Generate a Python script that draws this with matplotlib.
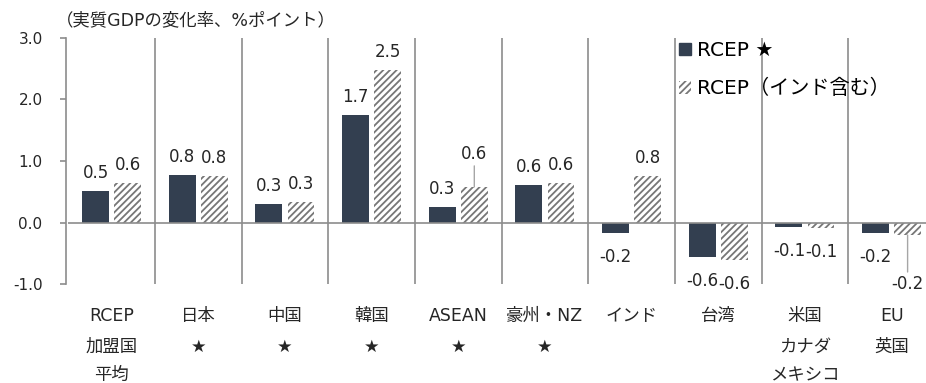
import matplotlib.pyplot as plt
import numpy as np
from matplotlib.patches import Patch

plt.rcParams["font.family"] = ["DejaVu Sans", "Noto Sans CJK JP"]
plt.rcParams["axes.unicode_minus"] = False
plt.rcParams["hatch.color"] = "#777777"
plt.rcParams["hatch.linewidth"] = 1.3

# category labels (one list of lines per category)
categories = [
    ["RCEP", "加盟国", "平均"],
    ["日本", "★"],
    ["中国", "★"],
    ["韓国", "★"],
    ["ASEAN", "★"],
    ["豪州・NZ", "★"],
    ["インド"],
    ["台湾"],
    ["米国", "カナダ", "メキシコ"],
    ["EU", "英国"],
]
rcep = [0.52, 0.78, 0.31, 1.74, 0.26, 0.61, -0.16, -0.56, -0.07, -0.16]
rcep_india = [0.64, 0.76, 0.34, 2.48, 0.58, 0.64, 0.76, -0.60, -0.09, -0.20]
series_names = ["RCEP ★", "RCEP（インド含む）"]
y_ticks = [-1.0, 0.0, 1.0, 2.0, 3.0]

DARK = "#333f50"
GRID = "#8c8c8c"
TEXT = "#262626"
HATCH = "/////"

fig = plt.figure(figsize=(9.26, 3.83), dpi=100)
W, H = 926, 383
ax = fig.add_axes([68.3 / W, (H - 284.3) / H, 866.6 / W, (284.3 - 37.7) / H])

x = np.arange(len(categories))
width = 0.31
off = 0.185
ax.bar(x - off, rcep, width, color=DARK, zorder=3)
ax.bar(x + off, rcep_india, width, color="white", hatch=HATCH,
       edgecolor="#777777", linewidth=0, zorder=3)

ax.set_xlim(-0.5, len(categories) - 0.5)
ax.set_ylim(-1, 3)

# category dividers and zero line
for b in np.arange(0.5, len(categories), 1.0):
    ax.axvline(b, color=GRID, lw=1.2, zorder=1)
ax.axhline(0, color=GRID, lw=1.2, zorder=4)

for s in ["top", "right", "bottom"]:
    ax.spines[s].set_visible(False)
ax.spines["left"].set_color(GRID)
ax.spines["left"].set_linewidth(1.2)
ax.spines["left"].set_position(("outward", 1.5))

ax.set_yticks(y_ticks)
ax.set_yticklabels([f"{v:.1f}" for v in y_ticks])
ax.tick_params(axis="y", length=4, width=1.2, color=GRID, pad=13, labelsize=11,
               labelcolor=TEXT)
ax.set_xticks([])

# data labels, offsets in pixels (positive = above)
special = {(4, 1): 33, (9, 1): -49}
for s, vals in enumerate([rcep, rcep_india]):
    for i, v in enumerate(vals):
        xp = x[i] + (-off if s == 0 else off)
        dy = special.get((i, s), 18 if v >= 0 else -24)
        txt = f"{v:.1f}"
        if (i, s) in special:
            sign = 1 if dy > 0 else -1
            ax.annotate("", xy=(xp, v), xytext=(0, dy - sign * 12),
                        textcoords="offset pixels",
                        arrowprops=dict(arrowstyle="-", color="#a6a6a6", lw=1,
                                        shrinkA=0, shrinkB=0))
        ax.annotate(txt, xy=(xp, v), xytext=(0, dy), textcoords="offset pixels",
                    ha="center", va="center", fontsize=12, color=TEXT,
                    zorder=5)

# multi-line category labels
line_y = [-1.51, -2.02, -2.47]
for i, lines in enumerate(categories):
    for j, t in enumerate(lines):
        ax.text(x[i], line_y[j], t, ha="center", va="center", fontsize=12.5,
                color=TEXT, clip_on=False)

fig.text(56 / W, 1 - 20 / H, "（実質GDPの変化率、%ポイント）", ha="left",
         va="center", fontsize=12.5, color=TEXT)

handles = [Patch(facecolor=DARK, edgecolor=DARK),
           Patch(facecolor="white", hatch=HATCH, edgecolor="#777777", lw=0)]
fig.legend(handles, series_names, loc="upper left",
           bbox_to_anchor=(679 / W, 1 - 41 / H), frameon=False, fontsize=14.5,
           handlelength=0.6, handleheight=0.6, handletextpad=0.3,
           labelspacing=0.95, borderaxespad=0, borderpad=0)

fig.savefig("out.png", dpi=100)
